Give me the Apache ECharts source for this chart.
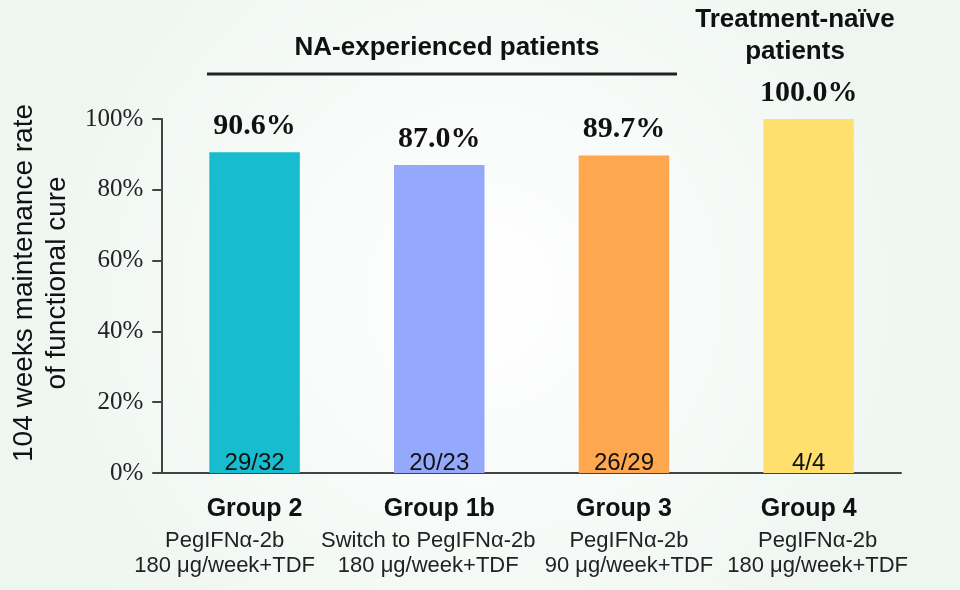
<!DOCTYPE html>
<html><head><meta charset="utf-8">
<script src="https://cdn.jsdelivr.net/npm/echarts@6/dist/echarts.min.js"></script>
<style>html,body{margin:0;padding:0;background:#f6faf8}#c{width:960px;height:590px}</style>
</head><body><div id="c"></div>
<script>
const groups = ['Group 2', 'Group 1b', 'Group 3', 'Group 4'];
const drugLine = ['PegIFNα-2b', 'Switch to PegIFNα-2b', 'PegIFNα-2b', 'PegIFNα-2b'];
const doseLine = ['180 μg/week+TDF', '180 μg/week+TDF', '90 μg/week+TDF', '180 μg/week+TDF'];
const rates = [90.6, 87.0, 89.7, 100.0];
const counts = ['29/32', '20/23', '26/29', '4/4'];
const colors = ['#18bccf', '#95a9fc', '#ffa74f', '#ffdf6d'];
const yTicks = [0, 20, 40, 60, 80, 100];

const chart = echarts.init(document.getElementById('c'));
const sans = 'Liberation Sans, Arial, sans-serif';
const serif = 'Liberation Serif, Times New Roman, serif';

// horizontal nudge of the treatment lines under each group (style only)
const subShift = [-30, -11, 5, 9];
const rich = {g: {fontFamily: sans, fontSize: 25, fontWeight: 'bold', color: '#111', lineHeight: 37}};
subShift.forEach((s, i) => {
  rich['s' + i] = {
    fontFamily: sans, fontSize: 22, color: '#222', lineHeight: 25,
    padding: s < 0 ? [0, -2 * s, 0, 0] : [0, 0, 0, 2 * s]
  };
});

chart.setOption({
  backgroundColor: {
    type: 'radial', x: 0.5, y: 0.5, r: 0.8,
    colorStops: [{offset: 0, color: '#ffffff'}, {offset: 1, color: '#eef6f1'}]
  },
  animation: false,
  grid: {left: 158, right: 59, top: 119, bottom: 117},
  xAxis: {
    type: 'category',
    data: groups,
    axisLine: {lineStyle: {color: '#444', width: 2}},
    axisTick: {alignWithLabel: true, length: 9, lineStyle: {color: '#444', width: 2}},
    axisLabel: {
      interval: 0, hideOverlap: false,
      margin: 18,
      formatter: (v, i) => '{g|' + v + '}\n{s' + i + '|' + drugLine[i] + '}\n{s' + i + '|' + doseLine[i] + '}',
      rich: rich
    }
  },
  yAxis: {
    type: 'value', min: 0, max: 100, interval: 20,
    name: '104 weeks maintenance rate\nof functional cure',
    nameLocation: 'middle', nameRotate: 90, nameGap: 81,
    nameTextStyle: {fontFamily: sans, fontSize: 28, color: '#111', lineHeight: 33, padding: [0, 0, 0, 26]},
    splitLine: {show: false},
    axisLine: {show: true, lineStyle: {color: '#444', width: 2}},
    axisTick: {show: true, length: 10, lineStyle: {color: '#444', width: 2}},
    axisLabel: {
      fontFamily: serif, fontSize: 25, color: '#222', margin: 19,
      formatter: v => yTicks.includes(v) ? v + '%' : ''
    }
  },
  series: [
    {
      type: 'bar', barWidth: '49%',
      data: rates.map((v, i) => ({value: v, itemStyle: {color: colors[i]}})),
      label: {
        show: true, position: 'top', distance: 11,
        fontFamily: serif, fontSize: 30, fontWeight: 'bold', color: '#111',
        formatter: p => p.value.toFixed(1) + '%'
      }
    },
    {
      type: 'bar', barWidth: '49%', barGap: '-100%',
      data: rates,
      itemStyle: {color: 'rgba(0,0,0,0)'},
      label: {
        show: true, position: 'insideBottom', distance: -2,
        fontFamily: sans, fontSize: 24, color: '#111',
        formatter: p => counts[p.dataIndex]
      }
    }
  ],
  graphic: [
    {type: 'text', x: 447, y: 48, style: {text: 'NA-experienced patients', align: 'center', verticalAlign: 'middle', font: 'bold 26px ' + sans, fill: '#111'}},
    {type: 'line', shape: {x1: 207, y1: 74, x2: 677, y2: 74}, style: {stroke: '#222', lineWidth: 3}},
    {type: 'text', x: 795, y: 36, style: {text: 'Treatment-naïve\npatients', align: 'center', verticalAlign: 'middle', font: 'bold 26px ' + sans, fill: '#111', lineHeight: 32}}
  ]
});
</script></body></html>
